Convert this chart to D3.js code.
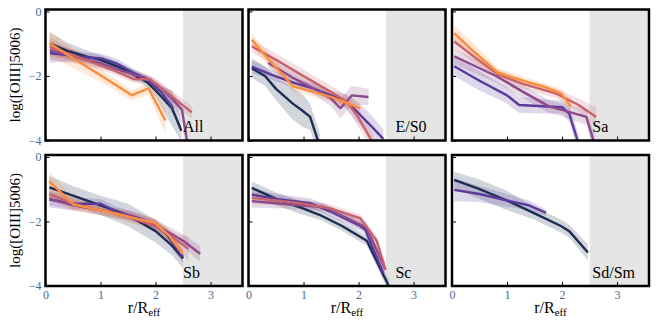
<!DOCTYPE html>
<html><head><meta charset="utf-8">
<script src="https://cdn.jsdelivr.net/npm/d3@7"></script>
<style>body{margin:0;background:#fff}svg{display:block}</style>
</head><body>
<script>
// ---- data: each point is [r/Reff, log([OIII]5006), half-width of band]
const panelNames = ["All", "E/S0", "Sa", "Sb", "Sc", "Sd/Sm"];
const panelLabelR = [2.5, 2.67, 2.55, 2.5, 2.67, 2.55];
const xTicks = [0, 1, 2, 3];
const yTicks = [-4, -2, 0];
const seriesKeys = ["navy", "purple", "plum", "rose", "orange"];

const all_navy = [[0.08,-1.0,0.35],[0.4,-1.22,0.25],[0.75,-1.4,0.2],[1.0,-1.5,0.15],[1.3,-1.7,0.15],[1.6,-1.95,0.15],[1.85,-2.2,0.15],[2.0,-2.45,0.2],[2.3,-3.0,0.55],[2.47,-3.7,0.35]];
const all_purple = [[0.08,-1.29,0.3],[0.4,-1.35,0.2],[0.7,-1.42,0.15],[1.0,-1.45,0.15],[1.3,-1.62,0.15],[1.6,-1.9,0.12],[1.85,-2.1,0.12],[2.1,-2.5,0.15],[2.32,-3.0,0.2]];
const all_plum = [[0.08,-1.2,0.3],[0.5,-1.4,0.2],[1.0,-1.6,0.15],[1.4,-1.85,0.12],[1.8,-2.05,0.12],[2.05,-2.3,0.15],[2.3,-2.7,0.2],[2.48,-3.05,0.25],[2.58,-4.1,0.4]];
const all_rose = [[0.08,-1.1,0.3],[0.4,-1.3,0.2],[0.8,-1.55,0.15],[1.2,-1.8,0.12],[1.6,-2.1,0.12],[1.9,-2.1,0.12],[2.2,-2.5,0.15],[2.45,-2.85,0.2],[2.66,-3.13,0.2]];
const all_orange = [[0.07,-0.98,0.4],[0.5,-1.45,0.3],[1.0,-1.98,0.2],[1.57,-2.6,0.15],[1.87,-2.38,0.2],[2.18,-3.38,0.4]];

const es0_navy = [[0.06,-1.76,0.3],[0.3,-2.0,0.3],[0.5,-2.4,0.35],[0.8,-2.85,0.5],[1.0,-3.1,0.5],[1.12,-3.27,0.4],[1.3,-4.2,0.4]];
const es0_purple = [[0.06,-1.71,0.2],[0.4,-1.95,0.15],[0.8,-2.2,0.15],[1.2,-2.4,0.15],[1.5,-2.6,0.15],[1.73,-2.75,0.2],[1.91,-3.0,0.3],[2.2,-3.5,0.35],[2.45,-3.95,0.3]];
const es0_plum = [[0.36,-1.6,0.15],[0.8,-2.05,0.2],[1.2,-2.4,0.2],[1.5,-2.7,0.25],[1.67,-3.0,0.3],[1.88,-2.6,0.3],[2.18,-2.65,0.25]];
const es0_rose = [[0.06,-1.08,0.2],[0.5,-1.5,0.2],[1.0,-2.0,0.2],[1.5,-2.5,0.2],[1.79,-2.8,0.2],[2.0,-3.3,0.3],[2.27,-4.1,0.3]];
const es0_orange = [[0.06,-0.88,0.2],[0.4,-1.55,0.2],[0.81,-2.32,0.15],[1.2,-2.5,0.15],[1.5,-2.65,0.15],[1.8,-2.85,0.15],[2.03,-3.0,0.15]];

const sa_purple = [[0.04,-1.7,0.3],[0.5,-2.15,0.3],[1.0,-2.6,0.25],[1.22,-2.9,0.25],[2.0,-2.97,0.2],[2.13,-3.17,0.25],[2.3,-4.1,0.3]];
const sa_plum = [[0.04,-1.39,0.25],[0.8,-2.0,0.2],[1.3,-2.5,0.2],[1.77,-2.95,0.2],[2.0,-3.05,0.2],[2.44,-3.27,0.25],[2.59,-4.1,0.3]];
const sa_rose = [[0.04,-0.93,0.2],[0.4,-1.4,0.2],[0.83,-1.95,0.15],[1.3,-2.25,0.15],[1.9,-2.55,0.15],[2.3,-2.9,0.2],[2.62,-3.27,0.3]];
const sa_orange = [[0.04,-0.67,0.25],[0.4,-1.25,0.25],[0.83,-1.9,0.15],[1.3,-2.15,0.12],[1.7,-2.35,0.12],[1.98,-2.54,0.15],[2.16,-2.94,0.2]];

const sb_navy = [[0.07,-0.94,0.35],[0.5,-1.2,0.3],[1.0,-1.5,0.3],[1.5,-1.8,0.35],[2.0,-2.3,0.35],[2.3,-2.75,0.3],[2.5,-3.15,0.3]];
const sb_purple = [[0.07,-1.32,0.25],[0.5,-1.45,0.2],[1.0,-1.45,0.15],[1.3,-1.7,0.15],[1.7,-1.9,0.15],[2.0,-2.1,0.15],[2.2,-2.4,0.2],[2.5,-3.1,0.2]];
const sb_plum = [[0.07,-1.3,0.2],[0.5,-1.5,0.15],[1.0,-1.65,0.15],[1.5,-1.8,0.15],[2.0,-2.1,0.15],[2.5,-2.6,0.2],[2.81,-3.0,0.25]];
const sb_rose = [[0.07,-1.15,0.2],[0.5,-1.45,0.15],[1.0,-1.65,0.15],[1.5,-1.85,0.15],[2.0,-2.15,0.15],[2.4,-2.6,0.2],[2.6,-2.85,0.4]];
const sb_orange = [[0.07,-0.76,0.3],[0.51,-1.48,0.2],[1.0,-1.65,0.15],[1.5,-1.85,0.15],[2.0,-2.05,0.15],[2.25,-2.45,0.2],[2.49,-3.0,0.25]];

const sc_navy = [[0.06,-0.96,0.2],[0.5,-1.3,0.2],[1.0,-1.6,0.2],[1.3,-1.8,0.15],[1.7,-2.14,0.15],[2.15,-2.6,0.15],[2.55,-4.0,0.2]];
const sc_purple = [[0.06,-1.17,0.2],[0.5,-1.3,0.15],[1.12,-1.43,0.15],[1.5,-1.7,0.15],[2.03,-2.14,0.15],[2.12,-2.25,0.15],[2.45,-3.6,0.2]];
const sc_plum = [[0.06,-1.37,0.2],[0.6,-1.45,0.15],[1.36,-1.55,0.12],[1.8,-1.9,0.12],[2.15,-2.2,0.15],[2.49,-3.5,0.2]];
const sc_rose = [[0.06,-1.27,0.2],[0.5,-1.35,0.15],[1.0,-1.45,0.12],[1.5,-1.6,0.12],[2.03,-1.9,0.12],[2.33,-2.6,0.15],[2.49,-3.5,0.2]];

const sd_navy = [[0.04,-0.71,0.25],[0.5,-1.0,0.3],[1.0,-1.35,0.3],[1.5,-1.75,0.2],[1.98,-2.14,0.2],[2.13,-2.3,0.2],[2.47,-2.96,0.25]];
const sd_purple = [[0.04,-1.02,0.35],[0.5,-1.15,0.25],[1.0,-1.35,0.2],[1.4,-1.5,0.15],[1.71,-1.73,0.1]];

// ---- assemble per panel
const panelSeries = [
  {navy: all_navy, purple: all_purple, plum: all_plum, rose: all_rose, orange: all_orange},
  {navy: es0_navy, purple: es0_purple, plum: es0_plum, rose: es0_rose, orange: es0_orange},
  {purple: sa_purple, plum: sa_plum, rose: sa_rose, orange: sa_orange},
  {navy: sb_navy, purple: sb_purple, plum: sb_plum, rose: sb_rose, orange: sb_orange},
  {navy: sc_navy, purple: sc_purple, plum: sc_plum, rose: sc_rose},
  {navy: sd_navy, purple: sd_purple}
];

const colors = {navy: "#1c2e52", purple: "#5b3a9c", plum: "#8c4a8c", rose: "#c8626c", orange: "#fb8d3c"};

const W = 659, H = 328;
const lefts = [45.5, 248.5, 452], tops = [9.5, 155];
const pw = 197, ph = 131;
const x = d3.scaleLinear().domain([0, 3.58]).range([0, pw]);
const y = d3.scaleLinear().domain([-4, 0.06]).range([ph, 0]);
const serif = "'Liberation Serif', 'DejaVu Serif', serif";
const tickColor = "#4a6890";

const svg = d3.select("body").append("svg").attr("width", W).attr("height", H)
  .style("font-family", serif);

const area = d3.area().x(d => x(d[0])).y0(d => y(d[1] - d[2])).y1(d => y(d[1] + d[2]));
const line = d3.line().x(d => x(d[0])).y(d => y(d[1]));

panelNames.forEach((name, i) => {
  const col = i % 3, row = Math.floor(i / 3);
  const g = svg.append("g").attr("transform", `translate(${lefts[col]},${tops[row]})`);
  const cid = "clip" + i;
  g.append("clipPath").attr("id", cid).append("rect").attr("width", pw).attr("height", ph);
  const inner = g.append("g").attr("clip-path", `url(#${cid})`);
  inner.append("rect").attr("x", x(2.5)).attr("y", 0).attr("width", pw - x(2.5)).attr("height", ph).attr("fill", "#e5e5e5");
  const ser = panelSeries[i];
  seriesKeys.forEach(k => {
    if (!ser[k]) return;
    inner.append("path").datum(ser[k]).attr("d", area).attr("fill", colors[k]).attr("fill-opacity", 0.2);
  });
  seriesKeys.forEach(k => {
    if (!ser[k]) return;
    inner.append("path").datum(ser[k]).attr("d", line).attr("fill", "none")
      .attr("stroke", colors[k]).attr("stroke-width", 2.4).attr("stroke-linejoin", "round");
  });
  // axes (inward ticks)
  const xa = g.append("g").attr("transform", `translate(0,${ph})`)
    .call(d3.axisBottom(x).tickValues(xTicks).tickSize(-4).tickPadding(4).tickFormat(d3.format("d")));
  const ya = g.append("g")
    .call(d3.axisLeft(y).tickValues(yTicks).tickSize(-4).tickPadding(4).tickFormat(d => d === 0 ? "0" : "\u2212" + Math.abs(d)));
  [xa, ya].forEach(a => {
    a.select(".domain").remove();
    a.selectAll("line").attr("stroke", "#000").attr("stroke-width", 1);
    a.selectAll("text").attr("fill", tickColor).style("font-size", "12px").style("font-family", serif);
  });
  if (row === 0) xa.selectAll("text").remove();
  if (col !== 0) ya.selectAll("text").remove();
  g.append("rect").attr("width", pw).attr("height", ph).attr("fill", "none")
    .attr("stroke", "#000").attr("stroke-width", 2.5);
  g.append("text").attr("x", x(panelLabelR[i])).attr("y", ph - 8.5)
    .attr("font-size", 16).attr("fill", "#000").text(name);
});

// axis titles
[0, 1].forEach(row => {
  svg.append("text").attr("transform", `translate(20,${tops[row] + ph / 2}) rotate(-90)`)
    .attr("text-anchor", "middle").attr("font-size", 15).text("log([OIII]5006)");
});
[0, 1, 2].forEach(col => {
  const t = svg.append("text").attr("x", lefts[col] + pw / 2).attr("y", 313)
    .attr("text-anchor", "middle").attr("font-size", 16);
  t.append("tspan").text("r/R");
  t.append("tspan").attr("font-size", 11).attr("dy", 3).text("eff");
});
</script>
</body></html>
